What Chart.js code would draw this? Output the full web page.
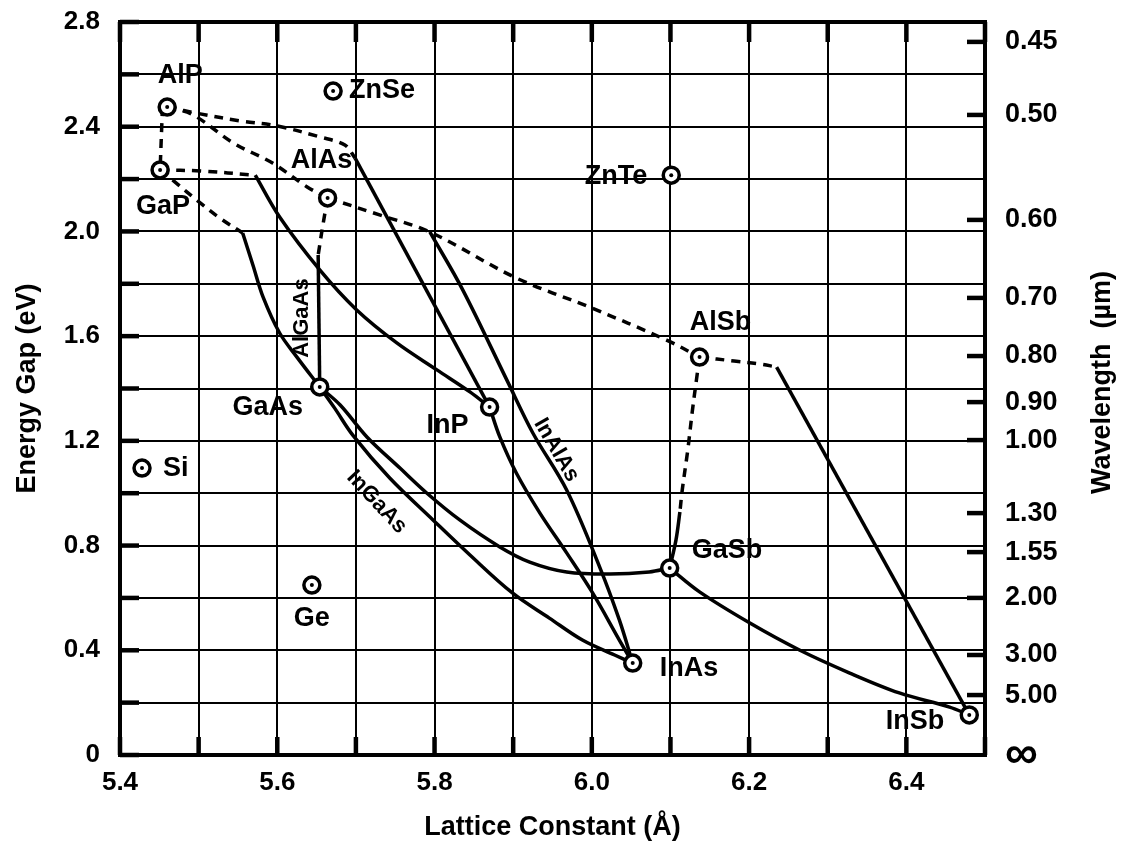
<!DOCTYPE html>
<html><head><meta charset="utf-8">
<script src="https://cdn.jsdelivr.net/npm/chart.js@4.4.1/dist/chart.umd.min.js"></script>
<style>html,body{margin:0;padding:0;background:#fff;}canvas{display:block;}</style>
</head><body>
<canvas id="c" width="1127" height="854"></canvas>
<script>
// ---------- tick labels ----------
const xTickLabels = ['5.4','5.6','5.8','6.0','6.2','6.4'];
const yTickLabels = ['0','0.4','0.8','1.2','1.6','2.0','2.4','2.8'];
const wavelengthLabels = ['\u221E','5.00','3.00','2.00','1.55','1.30','1.00','0.90','0.80','0.70','0.60','0.50','0.45'];
const wavelengthTickEnergy = [0, 0.229, 0.382, 0.600, 0.775, 0.924, 1.203, 1.348, 1.524, 1.746, 2.044, 2.445, 2.724];

// ---------- compounds (lattice constant, energy gap) ----------
const compoundNames = ['AlP','GaP','AlAs','ZnSe','ZnTe','AlSb','GaSb','InAs','InSb','InP','GaAs','Si','Ge'];
const compoundLattice = [5.460, 5.451, 5.664, 5.671, 6.101, 6.137, 6.099, 6.052, 6.480, 5.870, 5.654, 5.428, 5.644];
const compoundGap = [2.475, 2.235, 2.128, 2.536, 2.215, 1.520, 0.714, 0.351, 0.153, 1.329, 1.406, 1.096, 0.649];

// ---------- alloy curves (x = lattice constant, y = gap) ----------
const alpGapX = [5.454, 5.451];                         const alpGapY = [2.475, 2.235];
const alInPIndX = [5.460, 5.502, 5.553, 5.600, 5.654, 5.686, 5.699]; const alInPIndY = [2.475, 2.449, 2.422, 2.403, 2.361, 2.330, 2.280];
const alInPDirX = [5.699, 5.870];                       const alInPDirY = [2.280, 1.329];
const alAsPX = [5.460, 5.493, 5.544, 5.594, 5.638, 5.664]; const alAsPY = [2.475, 2.445, 2.338, 2.261, 2.170, 2.128];
const gaInPIndX = [5.451, 5.502, 5.572];                const gaInPIndY = [2.235, 2.231, 2.215];
const gaInPDirX = [5.572, 5.603, 5.654, 5.701, 5.752, 5.803, 5.845, 5.870]; const gaInPDirY = [2.215, 2.055, 1.853, 1.700, 1.574, 1.471, 1.387, 1.329];
const gaAsPIndX = [5.451, 5.467, 5.502, 5.527, 5.556];  const gaAsPIndY = [2.235, 2.196, 2.109, 2.051, 1.994];
const gaAsPDirX = [5.556, 5.569, 5.582, 5.603, 5.625, 5.654]; const gaAsPDirY = [1.994, 1.872, 1.749, 1.612, 1.520, 1.406];
const alGaAsIndX = [5.664, 5.658, 5.652];               const alGaAsIndY = [2.128, 2.024, 1.910];
const alGaAsDirX = [5.652, 5.654];                      const alGaAsDirY = [1.910, 1.406];
const alAsSbX = [5.664, 5.730, 5.794, 5.904, 5.997, 6.095, 6.137]; const alAsSbY = [2.128, 2.063, 1.998, 1.822, 1.711, 1.585, 1.520];
const inAlAsX = [5.794, 5.836, 5.892, 5.925, 5.968, 6.010, 6.035, 6.052]; const inAlAsY = [1.998, 1.776, 1.432, 1.230, 1.012, 0.718, 0.516, 0.351];
const inAsPX = [5.870, 5.883, 5.904, 5.934, 5.968, 6.001, 6.035, 6.052]; const inAsPY = [1.329, 1.215, 1.077, 0.924, 0.772, 0.619, 0.439, 0.351];
const inGaAsX = [5.654, 5.673, 5.696, 5.743, 5.798, 5.845, 5.899, 5.946, 5.988, 6.029, 6.052]; const inGaAsY = [1.406, 1.325, 1.222, 1.058, 0.898, 0.764, 0.619, 0.523, 0.439, 0.382, 0.351];
const gaAsSbX = [5.654, 5.680, 5.714, 5.756, 5.790, 5.832, 5.883, 5.921, 5.968, 6.023, 6.073, 6.099]; const gaAsSbY = [1.406, 1.337, 1.215, 1.096, 1.001, 0.898, 0.795, 0.737, 0.699, 0.691, 0.699, 0.714];
const gaInSbX = [6.099, 6.137, 6.201, 6.264, 6.328, 6.391, 6.455, 6.480]; const gaInSbY = [0.714, 0.623, 0.504, 0.401, 0.313, 0.237, 0.183, 0.153];
const alInSbIndX = [6.137, 6.181, 6.213, 6.235];        const alInSbIndY = [1.520, 1.505, 1.494, 1.482];
const alInSbDirX = [6.235, 6.480];                      const alInSbDirY = [1.482, 0.153];
const alGaSbIndX = [6.137, 6.133, 6.128, 6.122, 6.115, 6.112]; const alGaSbIndY = [1.520, 1.432, 1.318, 1.165, 1.012, 0.928];
const alGaSbDirX = [6.112, 6.107, 6.099];               const alGaSbDirY = [0.928, 0.821, 0.714];

// ---------- text styling (not data) ----------
const FONT = '"Liberation Sans", Arial, Helvetica, sans-serif';
const compoundLabelStyle = {
  AlP:{dx:13,dy:-32,align:'center'}, GaP:{dx:3,dy:37,align:'center'}, AlAs:{dx:-6,dy:-37,align:'center'},
  ZnSe:{dx:16,dy:-1,align:'left'}, ZnTe:{dx:-24,dy:1,align:'right'}, AlSb:{dx:21,dy:-35,align:'center'},
  GaSb:{dx:22,dy:-18,align:'left'}, InAs:{dx:27,dy:5,align:'left'}, InSb:{dx:-25,dy:7,align:'right'},
  InP:{dx:-42,dy:18,align:'center'}, GaAs:{dx:-52,dy:21,align:'center'}, Si:{dx:21,dy:0,align:'left'},
  Ge:{dx:0,dy:33,align:'center'}
};
const curveLabels = [
  {text:'AlGaAs', at:[5.631, 1.669], rot:-90},
  {text:'InGaAs', at:[5.7265, 0.966], rot:47},
  {text:'InAlAs', at:[5.955, 1.165], rot:60}
];

function pts(xs, ys){ return xs.map((x,i)=>({x:x, y:ys[i]})); }
function curve(xs, ys, dashed){
  return { data: pts(xs, ys), showLine:true, borderColor:'#000', borderWidth:3.5,
    borderDash: dashed ? [9,7] : [], pointRadius:0, tension: xs.length > 2 ? 0.35 : 0,
    fill:false, order:2 };
}
function labelFor(arr, v){ const f = arr.find(s => Math.abs(parseFloat(s) - v) < 1e-6); return f === undefined ? '' : f; }
function noPadV(s, w){ s.width = w; s.paddingTop = 0; s.paddingBottom = 0; }

const datasets = [
  curve(alpGapX, alpGapY, true),
  curve(alInPIndX, alInPIndY, true), curve(alInPDirX, alInPDirY, false),
  curve(alAsPX, alAsPY, true),
  curve(gaInPIndX, gaInPIndY, true), curve(gaInPDirX, gaInPDirY, false),
  curve(gaAsPIndX, gaAsPIndY, true), curve(gaAsPDirX, gaAsPDirY, false),
  curve(alGaAsIndX, alGaAsIndY, true), curve(alGaAsDirX, alGaAsDirY, false),
  curve(alAsSbX, alAsSbY, true),
  curve(inAlAsX, inAlAsY, false), curve(inAsPX, inAsPY, false),
  curve(inGaAsX, inGaAsY, false), curve(gaAsSbX, gaAsSbY, false),
  curve(gaInSbX, gaInSbY, false),
  curve(alInSbIndX, alInSbIndY, true), curve(alInSbDirX, alInSbDirY, false),
  curve(alGaSbIndX, alGaSbIndY, true), curve(alGaSbDirX, alGaSbDirY, false),
  { data: pts(compoundLattice, compoundGap), showLine:false, pointRadius:8, pointBorderWidth:3.5,
    pointBackgroundColor:'#fff', pointBorderColor:'#000', order:1 },
  { data: pts(compoundLattice, compoundGap), showLine:false, pointRadius:2, pointBorderWidth:0,
    pointBackgroundColor:'#000', pointBorderColor:'#000', order:0 }
];

const decorPlugin = {
  id:'decor',
  afterDatasetsDraw(chart){
    const ctx = chart.ctx, a = chart.chartArea, xs = chart.scales.x, ys = chart.scales.y;
    ctx.save();
    ctx.strokeStyle = '#000'; ctx.fillStyle = '#000';
    ctx.lineWidth = 4; ctx.setLineDash([]);
    ctx.strokeRect(a.left, a.top, a.right - a.left, a.bottom - a.top);
    ctx.lineWidth = 4.5;
    xs.ticks.forEach(t => { const p = xs.getPixelForValue(t.value);
      ctx.beginPath(); ctx.moveTo(p, a.bottom); ctx.lineTo(p, a.bottom - 18);
      ctx.moveTo(p, a.top); ctx.lineTo(p, a.top + 20); ctx.stroke(); });
    ys.ticks.forEach(t => { const p = ys.getPixelForValue(t.value);
      ctx.beginPath(); ctx.moveTo(a.left, p); ctx.lineTo(a.left + 19, p); ctx.stroke(); });
    wavelengthTickEnergy.forEach(e => { if (e <= 0) return; const p = ys.getPixelForValue(e);
      ctx.beginPath(); ctx.moveTo(a.right, p); ctx.lineTo(a.right - 18, p); ctx.stroke(); });
    ctx.font = 'bold 27px ' + FONT; ctx.textBaseline = 'middle';
    compoundNames.forEach((n, i) => { const st = compoundLabelStyle[n];
      ctx.textAlign = st.align;
      ctx.fillText(n, xs.getPixelForValue(compoundLattice[i]) + st.dx, ys.getPixelForValue(compoundGap[i]) + st.dy); });
    ctx.font = 'bold 22px ' + FONT; ctx.textAlign = 'center';
    curveLabels.forEach(c => { ctx.save();
      ctx.translate(xs.getPixelForValue(c.at[0]), ys.getPixelForValue(c.at[1]));
      ctx.rotate(c.rot * Math.PI / 180); ctx.fillText(c.text, 0, 0); ctx.restore(); });
    ctx.font = 'bold 27px ' + FONT; ctx.textAlign = 'center';
    ctx.translate(1103, (a.top + a.bottom) / 2 - 6); ctx.rotate(-Math.PI / 2);
    ctx.fillText('Wavelength  (\u00B5m)', 0, 0);
    ctx.restore();
  }
};

new Chart(document.getElementById('c'), {
  type:'scatter',
  data:{ datasets: datasets },
  options:{
    responsive:false, animation:false, devicePixelRatio:1, events:[],
    layout:{ padding:{ top:22, left:0, right:0, bottom:0 } },
    plugins:{ legend:{display:false}, tooltip:{enabled:false} },
    scales:{
      x:{ type:'linear', position:'bottom', min:5.4, max:6.5,
        afterFit: s => { s.height = 99; s.paddingLeft = 0; s.paddingRight = 0; },
        ticks:{ stepSize:0.1, autoSkip:false, maxRotation:0, padding:12, color:'#000',
          font:{ family:FONT, size:26, weight:'bold' }, callback: v => labelFor(xTickLabels, v) },
        grid:{ color:'#000', lineWidth:2, drawTicks:false },
        border:{ color:'#000', width:4 },
        title:{ display:true, text:'Lattice Constant (\u00C5)', color:'#000',
          font:{ family:FONT, size:27, weight:'bold' }, padding:{ top:0, bottom:10 } } },
      y:{ type:'linear', position:'left', min:0, max:2.8,
        afterFit: s => noPadV(s, 120),
        ticks:{ stepSize:0.2, autoSkip:false, padding:20, color:'#000',
          font:{ family:FONT, size:26, weight:'bold' }, callback: v => labelFor(yTickLabels, v) },
        grid:{ color:'#000', lineWidth:2, drawTicks:false },
        border:{ color:'#000', width:4 },
        title:{ display:true, text:'Energy Gap (eV)', color:'#000',
          font:{ family:FONT, size:27, weight:'bold' }, padding:{ top:11, bottom:0 } } },
      y2:{ type:'linear', position:'right', min:0, max:2.8,
        afterFit: s => noPadV(s, 142),
        afterBuildTicks: s => { s.ticks = wavelengthTickEnergy.map(v => ({ value:v })); },
        ticks:{ autoSkip:false, padding:20, color:'#000',
          font: c => ({ family:FONT, size: (c.index === 0) ? 46 : 27, weight:'bold' }),
          callback: (v, i) => wavelengthLabels[i] },
        grid:{ display:false, drawTicks:false },
        border:{ color:'#000', width:4 } }
    }
  },
  plugins:[decorPlugin]
});
</script>
</body></html>
